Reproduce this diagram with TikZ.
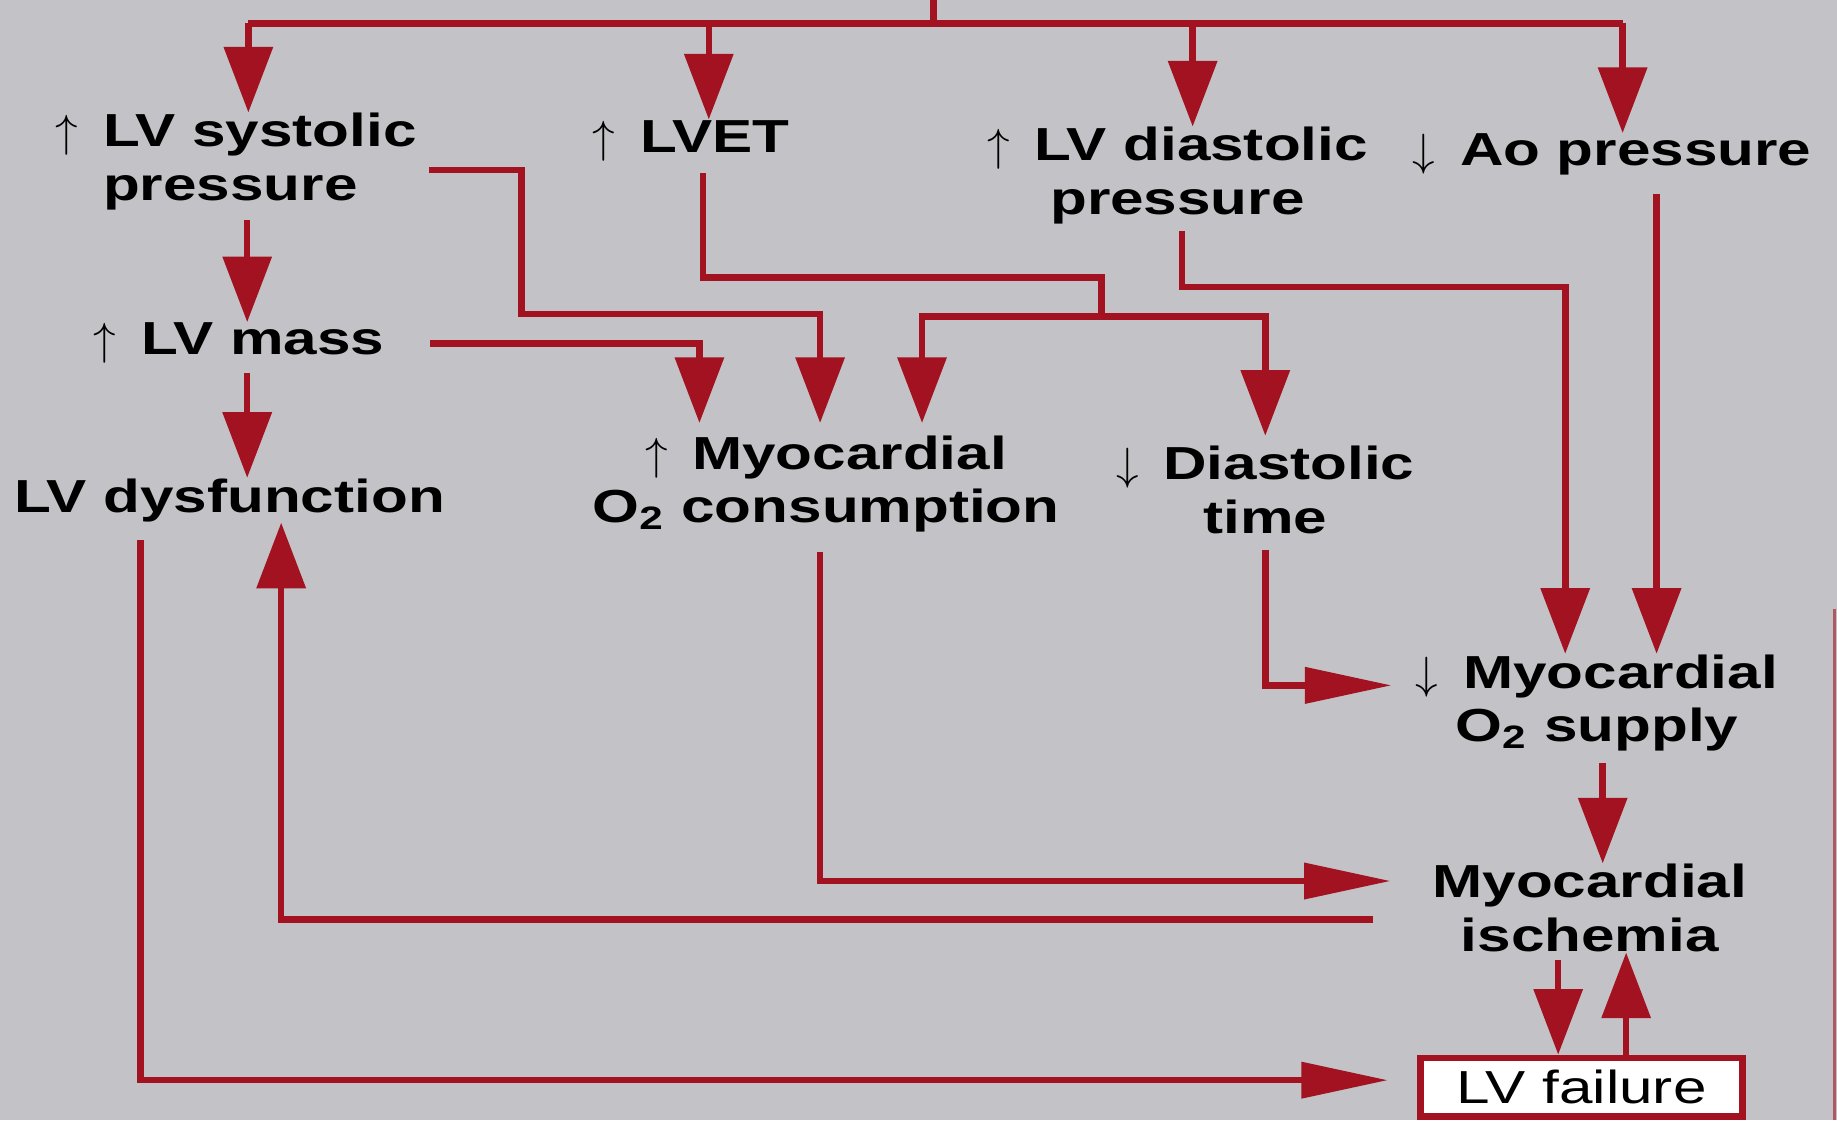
\documentclass[tikz,border=0pt]{standalone}
\usepackage{fontspec}
\setmainfont{Liberation Sans}[FakeStretch=1.3]
\usepackage{tikz}
\usetikzlibrary{arrows.meta,calc}
\definecolor{lvred}{RGB}{162,18,32}
\definecolor{paper}{RGB}{195,195,199}
\newcommand{\incr}{$\uparrow$\hspace{6pt}}
\newcommand{\decr}{$\downarrow$\hspace{6pt}}

\begin{document}
\begin{tikzpicture}[
  box/.style={font=\fontsize{11.25}{13}\selectfont\bfseries, inner sep=0pt, align=center},
  wire/.style={draw=lvred, line width=1.6pt},
  vhead/.tip={Triangle[length=5.6mm, width=4.1mm]},
  hhead/.tip={Triangle[length=7.4mm, width=3mm]},
  down/.style={wire, -vhead},
  tohead/.style={wire, -hhead},
]
\useasboundingbox (0,0) rectangle (15.68,-9.56);
\fill[paper] (0,0) rectangle (15.68,-9.56);

% nodes
\node[box, align=left, anchor=west] (sys) at (0.47,-1.38) {\incr LV systolic\\\hphantom{\incr}pressure};
\node[box] (lvet) at (5.90,-1.20) {\incr LVET};
\node[box] (dia) at (10.05,-1.50) {\incr LV diastolic\\pressure};
\node[box] (ao) at (13.76,-1.32) {\decr Ao pressure};
\node[box] (mass) at (2.04,-2.93) {\incr LV mass};
\node[box] (dysf) at (1.96,-4.27) {LV dysfunction};
\node[box] (mvo) at (7.05,-4.13) {\incr Myocardial\\O\textsubscript{2} consumption};
\node[box] (dtime) at (10.80,-4.18) {\decr Diastolic\\time};
\node[box] (supply) at (13.63,-6.00) {\decr Myocardial\\O\textsubscript{2} supply};
\node[box] (isch) at (13.57,-7.75) {Myocardial\\ischemia};
\node[box, font=\fontsize{11.25}{13}\selectfont, draw=lvred, line width=1.6pt, fill=white,
  minimum width=2.75cm, minimum height=0.5cm] (fail) at (13.50,-9.28) {LV failure};

% columns and bends
\coordinate (src) at (7.97,0);
\coordinate (bus) at (7.97,-0.20);
\coordinate (cSys) at (2.12,0);
\coordinate (cLvet) at (6.05,0);
\coordinate (cDia) at (10.18,0);
\coordinate (cAo) at (13.85,0);
\coordinate (cMass) at (2.11,0);
\coordinate (cMvoA) at (5.97,0);
\coordinate (cMvoB) at (7.00,0);
\coordinate (cMvoC) at (7.87,0);
\coordinate (cAoS) at (14.14,0);
\coordinate (cDys) at (2.40,0);
\coordinate (cFail) at (1.20,0);
\coordinate (cDn) at (13.30,0);
\coordinate (cUp) at (13.88,0);
\coordinate (cSi) at (13.68,0);
\coordinate (kSys) at (4.45,-2.68);
\coordinate (kLv) at (9.40,-2.37);
\coordinate (kT) at (9.40,-2.70);
\coordinate (kDia) at (13.36,-2.45);

% top bus
\draw[wire] (src) -- (bus);
\draw[wire] (cSys |- bus) -- (cAo |- bus);
\foreach \c/\n in {cSys/sys, cLvet/lvet, cDia/dia, cAo/ao}
  \draw[down] (\c |- bus) -- (\c |- \n.north);

% left column
\draw[down, shorten <=0.8mm] (sys.south -| cMass) -- (mass.north -| cMass);
\draw[down, shorten <=0.7mm] (mass.south -| cMass) -- (dysf.north -| cMass);

% into O2 consumption and diastolic time
\draw[down, shorten >=1mm] ([xshift=1mm,yshift=-0.7mm]sys.east) -| (kSys) -| (mvo.north -| cMvoB);
\draw[down, shorten >=1mm] ([xshift=3.8mm]mass.east) -| (mvo.north -| cMvoA);
\draw[wire, shorten <=1mm] ([xshift=1mm]lvet.south) |- (kLv) -- (kT);
\draw[down, shorten >=1mm] (kT) -| (mvo.north -| cMvoC);
\draw[down, shorten >=0.8mm] (kT) -| (dtime.north);

% into O2 supply
\draw[down, shorten <=0.5mm] ([xshift=0.4mm]dia.south) |- (kDia) -- (kDia |- supply.north);
\draw[down, shorten <=1.5mm] (ao.south -| cAoS) -- (supply.north -| cAoS);
\draw[tohead, shorten <=1.3mm] (dtime.south) |- ([xshift=-2mm,yshift=1.5mm]supply.west);

% ischemia and failure
\draw[down, shorten <=0.9mm] (supply.south -| cSi) -- (isch.north -| cSi);
\draw[tohead, shorten <=1.6mm] ([xshift=-0.5mm]mvo.south) |- ([xshift=-3.5mm,yshift=2.3mm]isch.west);
\draw[down] ([xshift=-5mm,yshift=-1mm]isch.west) -| (dysf.south -| cDys);
\draw[tohead, shorten <=1.5mm] (dysf.south -| cFail) |- ([xshift=-2.5mm,yshift=0.6mm]fail.west);
\draw[down, shorten <=0.6mm] (isch.south -| cDn) -- (fail.north -| cDn);
\draw[down] (fail.north -| cUp) -- (isch.south -| cUp);

% edge of the plate
\draw[lvred, line width=0.8pt, opacity=0.6] (15.66,-5.2) -- (15.66,-9.56);
\end{tikzpicture}
\end{document}
